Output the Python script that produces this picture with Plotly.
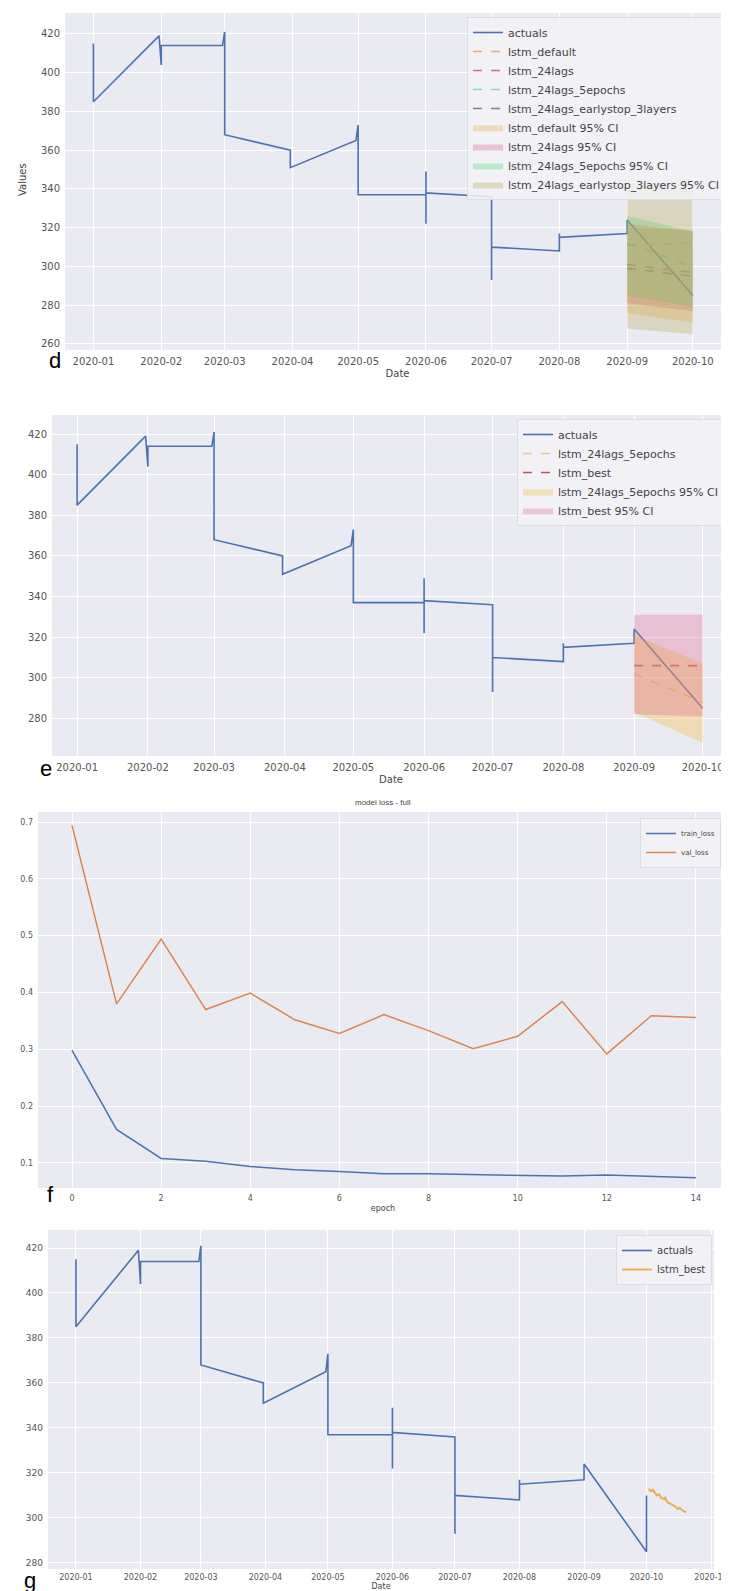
import plotly.graph_objects as go

W, H = 729, 1591

# ---------------- data ----------------
act_dates = ['2020-01-01', '2020-01-01', '2020-01-31', '2020-02-01', '2020-02-01', '2020-02-29',
             '2020-03-01', '2020-03-01', '2020-03-31', '2020-03-31', '2020-04-30', '2020-05-01',
             '2020-05-01', '2020-06-01', '2020-06-01', '2020-06-01', '2020-06-01', '2020-07-01',
             '2020-07-01', '2020-07-01', '2020-08-01', '2020-08-01', '2020-08-01', '2020-09-01',
             '2020-09-01', '2020-10-01']
act_values = [415, 385, 419, 404, 414, 414,
              421, 368, 360, 351, 365, 373,
              337, 337, 349, 322, 338, 336,
              293, 310, 308, 317, 315, 317,
              324, 285]
act_g_dates = act_dates + ['2020-10-01']
act_g_values = act_values + [310]

fc_dates = ['2020-09-01', '2020-10-01']
# panel d
default_mean = [311, 312]
default_lo = [276, 271]
default_hi = [320, 319]
lags24_mean = [301, 297]
lags24_lo = [281, 277]
lags24_hi = [322, 318]
ep5_mean = [312, 300]
ep5_lo = [285, 279]
ep5_hi = [326, 318]
es3_mean = [299, 295]
es3_lo = [268, 265]
es3_hi = [343, 343]
# panel e
ep5e_mean = [302, 288]
ep5e_lo = [283, 268]
ep5e_hi = [321, 307]
best_mean = [306, 306]
best_lo = [282, 281]
best_hi = [331, 331]

# panel f
epochs = list(range(15))
train_loss = [0.298, 0.159, 0.108, 0.103, 0.094, 0.088, 0.085, 0.081, 0.081, 0.080, 0.078, 0.077, 0.079, 0.076, 0.074]
val_loss = [0.694, 0.380, 0.494, 0.370, 0.399, 0.352, 0.328, 0.361, 0.333, 0.301, 0.323, 0.384, 0.292, 0.359, 0.356]

# panel g
best_g_dates = ['2020-10-%02d' % d for d in range(2, 21)]
best_g_values = [313, 312, 312.5, 311, 310, 310.5, 309, 308.5, 309, 307, 306.5, 306, 305.5, 305, 304, 304.5, 303.5, 303, 302.5]

# ---------------- helpers ----------------
def xd(a, b):
    return [a / W, b / W]

def yd(top, bottom):
    return [1 - bottom / H, 1 - top / H]

BLUE = '#4C72B0'
fig = go.Figure()

def line(x, y, name, color, xa, ya, leg, dash='solid', width=1.6):
    fig.add_trace(go.Scatter(x=x, y=y, name=name, mode='lines',
                             line=dict(color=color, width=width, dash=dash),
                             xaxis=xa, yaxis=ya, legend=leg))

def band(x, lo, hi, name, color, xa, ya, leg):
    fig.add_trace(go.Scatter(x=list(x) + list(x)[::-1], y=list(hi) + list(lo)[::-1],
                             name=name, mode='lines', fill='toself', fillcolor=color,
                             line=dict(width=0, color=color), xaxis=xa, yaxis=ya, legend=leg))

# panel d
line(act_dates, act_values, 'actuals', BLUE, 'x', 'y', 'legend')
line(fc_dates, default_mean, 'lstm_default', '#E9AE78', 'x', 'y', 'legend', 'dash')
line(fc_dates, lags24_mean, 'lstm_24lags', '#D0708A', 'x', 'y', 'legend', 'dash')
line(fc_dates, ep5_mean, 'lstm_24lags_5epochs', '#86D6C6', 'x', 'y', 'legend', 'dash')
line(fc_dates, es3_mean, 'lstm_24lags_earlystop_3layers', '#8A7C80', 'x', 'y', 'legend', 'dash')
band(fc_dates, default_lo, default_hi, 'lstm_default 95% CI', 'rgba(240,165,60,0.30)', 'x', 'y', 'legend')
band(fc_dates, lags24_lo, lags24_hi, 'lstm_24lags 95% CI', 'rgba(225,90,125,0.30)', 'x', 'y', 'legend')
band(fc_dates, ep5_lo, ep5_hi, 'lstm_24lags_5epochs 95% CI', 'rgba(60,215,110,0.30)', 'x', 'y', 'legend')
band(fc_dates, es3_lo, es3_hi, 'lstm_24lags_earlystop_3layers 95% CI', 'rgba(185,170,90,0.33)', 'x', 'y', 'legend')

# panel e
line(act_dates, act_values, 'actuals', BLUE, 'x2', 'y2', 'legend2')
line(fc_dates, ep5e_mean, 'lstm_24lags_5epochs', '#F2C490', 'x2', 'y2', 'legend2', 'dash')
line(fc_dates, best_mean, 'lstm_best', '#C8505A', 'x2', 'y2', 'legend2', 'dash')
band(fc_dates, ep5e_lo, ep5e_hi, 'lstm_24lags_5epochs 95% CI', 'rgba(240,190,60,0.35)', 'x2', 'y2', 'legend2')
band(fc_dates, best_lo, best_hi, 'lstm_best 95% CI', 'rgba(225,100,140,0.30)', 'x2', 'y2', 'legend2')

# panel f
line(epochs, train_loss, 'train_loss', BLUE, 'x3', 'y3', 'legend3', width=1.5)
line(epochs, val_loss, 'val_loss', '#DD8452', 'x3', 'y3', 'legend3', width=1.5)

# panel g
line(act_g_dates, act_g_values, 'actuals', BLUE, 'x4', 'y4', 'legend4')
line(best_g_dates, best_g_values, 'lstm_best', '#F0AC55', 'x4', 'y4', 'legend4', width=2)

# ---------------- layout ----------------
TICK = dict(size=10, color='#555555', family='DejaVu Sans')
def ax(domain, rng, **kw):
    d = dict(domain=domain, range=rng, showgrid=True, gridcolor='white', gridwidth=1,
             zeroline=False, showline=False, ticks='', tickfont=TICK, automargin=False,
             ticklabelstandoff=4)
    d.update(kw)
    return d

TITLE = dict(size=10, color='#444444', family='DejaVu Sans')
date_kw = dict(type='date', dtick='M1', tick0='2020-01-01', tickformat='%Y-%m')

fig.update_layout(
    width=W, height=H, margin=dict(l=0, r=0, t=0, b=0),
    paper_bgcolor='white', plot_bgcolor='#EAEAF2',
    font=dict(family='DejaVu Sans', color='#444444'),
    xaxis=ax(xd(57, 722), ['2019-12-19', '2020-10-18'], anchor='y',
             title=dict(text='Date', font=TITLE, standoff=3), **date_kw),
    yaxis=ax(yd(5, 342), [256.9, 430.8], anchor='x', dtick=20),
    xaxis2=ax(xd(44, 722), ['2019-12-21', '2020-10-13'], anchor='y2',
              title=dict(text='Date', font=TITLE, standoff=3), **date_kw),
    yaxis2=ax(yd(407, 748), [261.5, 429.4], anchor='x2', dtick=20),
    xaxis3=ax(xd(30, 720), [-0.763, 14.72], anchor='y3', dtick=2, tickfont=dict(size=8, color='#555555'),
              title=dict(text='epoch', font=dict(size=8, color='#444444'), standoff=3)),
    yaxis3=ax(yd(804, 1180), [0.056, 0.7176], anchor='x3', dtick=0.1, tickformat='.1f',
              tickfont=dict(size=8, color='#555555')),
    xaxis4=ax(xd(40, 706), ['2019-12-18 14:00', '2020-11-02 10:00'], anchor='y4',
              tickfont=dict(size=8, color='#555555'), ticklabelstandoff=2,
              title=dict(text='Date', font=dict(size=8, color='#444444'), standoff=1), **date_kw),
    yaxis4=ax(yd(1222, 1561), [277.3, 428], anchor='x4', dtick=20, tickfont=dict(size=9, color='#555555')),
)

LEG = dict(bgcolor='rgba(242,242,247,0.85)', bordercolor='#DCDCE4', borderwidth=1,
           xanchor='right', yanchor='top', traceorder='normal', font=dict(size=11, color='#444444'))
fig.update_layout(
    legend=dict(LEG, x=717 / W, y=1 - 9 / H),
    legend2=dict(LEG, x=716 / W, y=1 - 411 / H),
    legend3=dict(LEG, x=713 / W, y=1 - 810 / H, font=dict(size=7, color='#444444')),
    legend4=dict(LEG, x=704 / W, y=1 - 1227 / H, font=dict(size=10, color='#444444')),
)

# panel letters, y title and the loss title
def note(text, x, y, size, color='black', angle=0):
    fig.add_annotation(text=text, x=x / W, y=1 - y / H, xref='paper', yref='paper',
                       showarrow=False, textangle=angle,
                       font=dict(size=size, color=color, family='Liberation Sans'),
                       xanchor='center', yanchor='middle')

note('d', 47, 352, 22)
note('e', 38, 760, 22)
note('f', 42, 1186, 22)
note('g', 22, 1572, 22)
note('model loss - full', 375, 794, 8, '#444444')
fig.add_annotation(text='Values', x=14 / W, y=1 - 172 / H, xref='paper', yref='paper',
                   showarrow=False, textangle=-90, font=TITLE, xanchor='center', yanchor='middle')

fig.write_html('out.html')
